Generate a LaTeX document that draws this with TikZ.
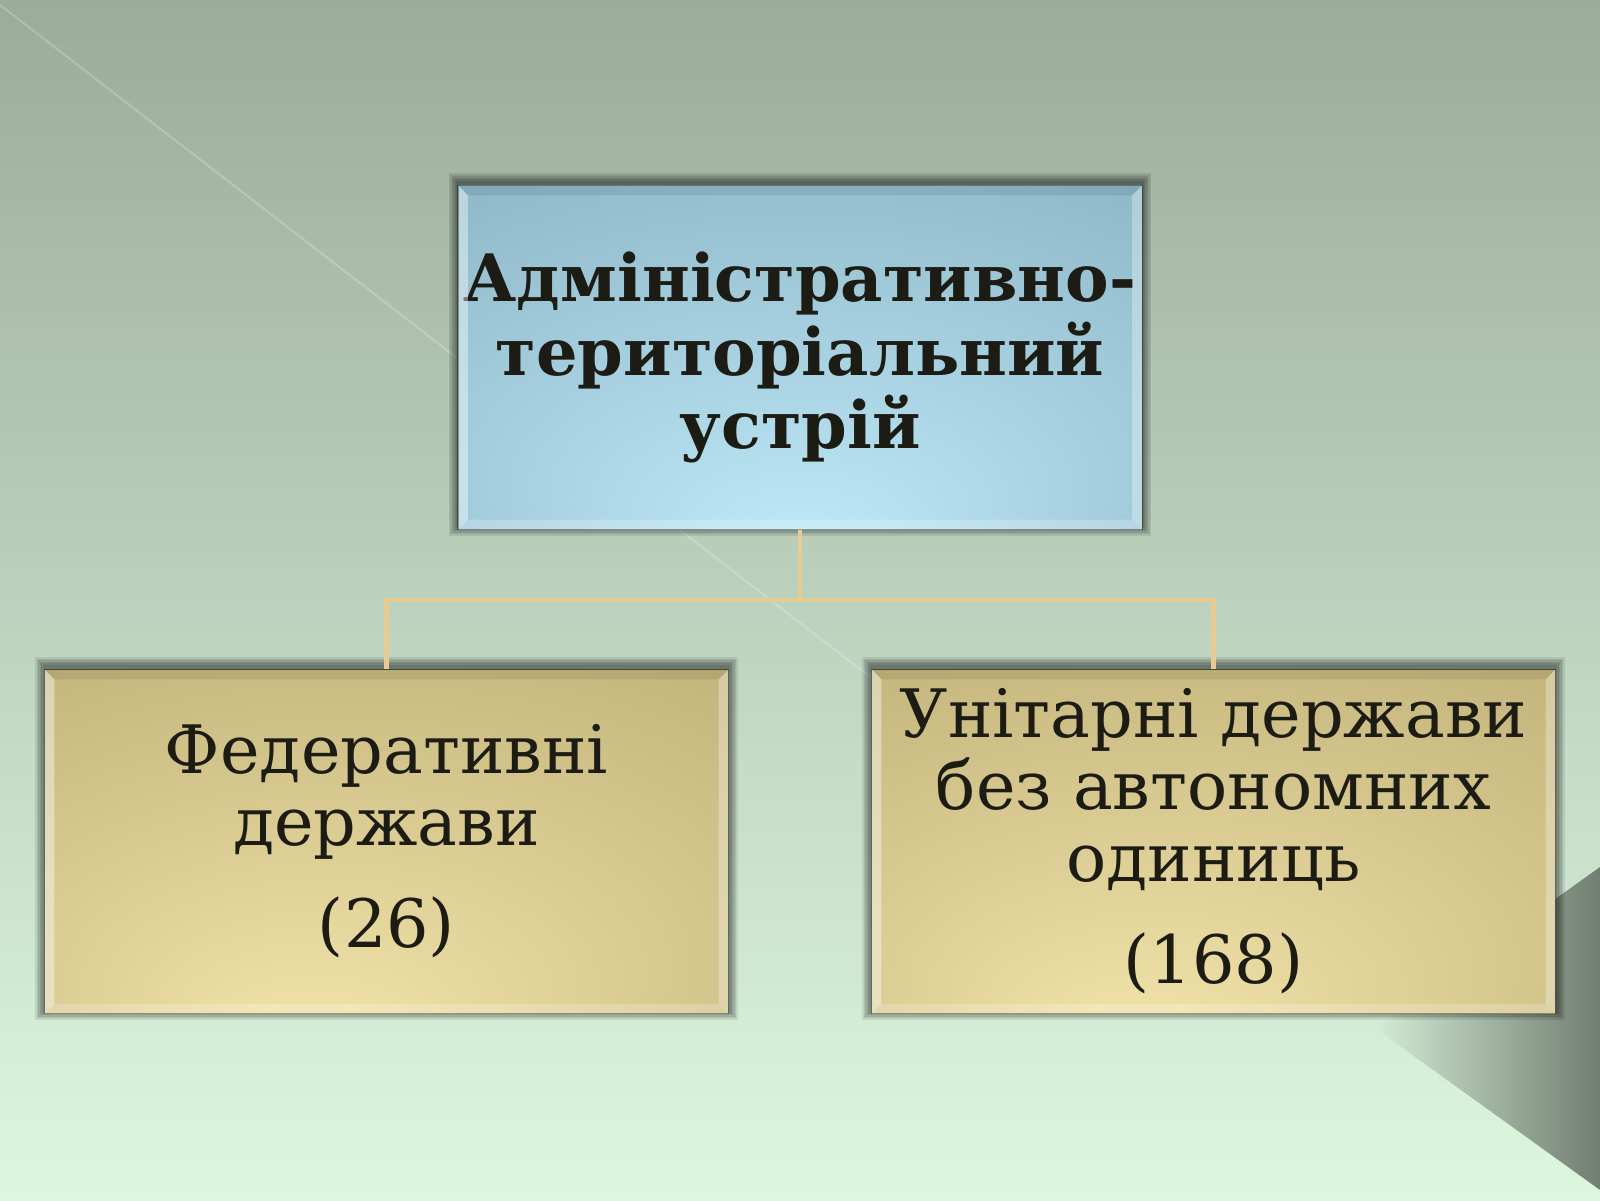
\documentclass[tikz,border=0pt]{standalone}
\usepackage{fontspec}
\setmainfont{DejaVu Serif}
\usetikzlibrary{calc}
\usetikzlibrary{positioning}

\definecolor{bgtop}{HTML}{9AAC9B}
\definecolor{bgbot}{HTML}{DDF7DF}
\definecolor{bluedark}{HTML}{78A0B2}
\definecolor{bluelight}{HTML}{BEE9F7}
\definecolor{golddark}{HTML}{B0A168}
\definecolor{goldlight}{HTML}{F2E4AA}
\definecolor{linktan}{HTML}{E6CB93}
\definecolor{inkdark}{HTML}{1C1C14}

\pgfdeclareradialshading{blueglow}{\pgfpoint{0bp}{-28bp}}{color(0bp)=(bluelight); color(28bp)=(bluelight!55!bluedark); color(62bp)=(bluedark)}
\pgfdeclareradialshading{goldglow}{\pgfpoint{-6bp}{-30bp}}{color(0bp)=(goldlight); color(30bp)=(goldlight!50!golddark); color(62bp)=(golddark)}

\pgfdeclarelayer{bg}
\pgfdeclarelayer{shade}
\pgfsetlayers{bg,shade,main}

\tikzset{
    panel/.style={rectangle, minimum width=6.83cm, minimum height=3.43cm, inner sep=0pt, align=center, text=inkdark},
    titlebox/.style={panel, shading=blueglow, font=\fontsize{18.6pt}{20.8pt}\selectfont\bfseries},
    goldbox/.style={panel, shading=goldglow, font=\fontsize{19pt}{20.5pt}\selectfont},
    link/.style={draw=linktan, line width=1.2pt}
}

% soft dark glow round a box
\newcommand{\boxshadow}[1]{
    \begin{pgfonlayer}{shade}
    \foreach \s in {0.015,0.03,...,0.09}
        \fill[black,opacity=0.09] ($(#1.south west)+(-\s,-\s+0.03)$) rectangle ($(#1.north east)+(\s,\s+0.03)$);
    \end{pgfonlayer}
}
% bevelled rim of a box
\newcommand{\boxbevel}[1]{
    \fill[black,opacity=0.08] (#1.north west) -- (#1.north east) -- ($(#1.north east)+(-0.1,-0.1)$) -- ($(#1.north west)+(0.1,-0.1)$) -- cycle;
    \fill[white,opacity=0.40] (#1.north west) -- (#1.south west) -- ($(#1.south west)+(0.1,0.1)$) -- ($(#1.north west)+(0.1,-0.1)$) -- cycle;
    \fill[white,opacity=0.22] (#1.south west) -- (#1.south east) -- ($(#1.south east)+(-0.1,0.1)$) -- ($(#1.south west)+(0.1,0.1)$) -- cycle;
    \fill[white,opacity=0.30] (#1.south east) -- (#1.north east) -- ($(#1.north east)+(-0.1,-0.1)$) -- ($(#1.south east)+(-0.1,0.1)$) -- cycle;
    \draw[black,opacity=0.35,line width=0.4pt] (#1.south west) rectangle (#1.north east);
}

\begin{document}
\begin{tikzpicture}
    \useasboundingbox (0,0) rectangle (16,12);

    \begin{pgfonlayer}{bg}
    \shade[top color=bgtop, bottom color=bgbot] (0,0) rectangle (16,12);
    \draw[white,opacity=0.2,line width=0.6pt] (0,11.95) -- (9,5);
    \shade[left color=bgbot!85!bgtop, right color=bgtop!55!black!60!bgtop] (16,3.33) -- (13.75,1.72) -- (16,0.1) -- cycle;
    \end{pgfonlayer}

    \node[titlebox] (admin) at (8,8.425) {Адміністративно-\\територіальний\\устрій};
    \node[goldbox] (federal) at (3.865,3.585) {Федеративні\\держави\\[0.3cm](26)};
    \node[goldbox] (unitary) at (12.135,3.585) {Унітарні держави\\без автономних\\одиниць\\[0.3cm](168)};

    \boxshadow{admin}
    \boxshadow{federal}
    \boxshadow{unitary}
    \boxbevel{admin}
    \boxbevel{federal}
    \boxbevel{unitary}

    \begin{pgfonlayer}{shade}
    \coordinate (fork) at ($(admin.south)+(0,-0.7)$);
    \draw[link] (admin.south) -- (fork);
    \draw[link] (fork) -| (federal.north);
    \draw[link] (fork) -| (unitary.north);
    \end{pgfonlayer}
\end{tikzpicture}
\end{document}
